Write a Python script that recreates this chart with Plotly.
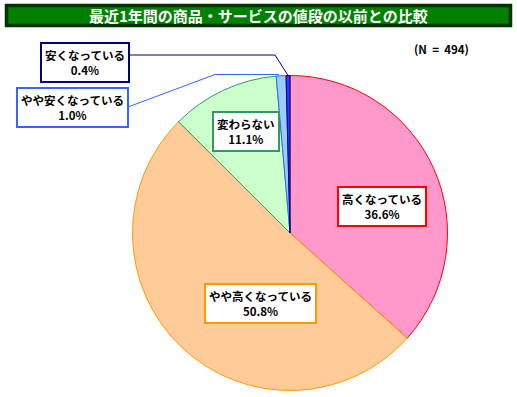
import math
import plotly.graph_objects as go

title = "最近1年間の商品・サービスの値段の以前との比較"
labels = ["高くなっている", "やや高くなっている", "変わらない", "やや安くなっている", "安くなっている"]
values = [36.6, 50.8, 11.1, 1.0, 0.4]
n_text = "(N  =  494)"

fills = ["#FF99CC", "#FFCC99", "#CCFFCC", "#99CCFF", "#3333FF"]
borders = ["#FF0000", "#FF9900", "#339966", "#3366FF", "#000080"]

W, H = 517, 397
FONT = "Noto Sans CJK JP"

# pie geometry in pixels
cx, cy, r = 290, 233, 157.5

def px(x):
    return x / W

def py(y):
    return 1 - y / H

fig = go.Figure()
fig.add_trace(go.Pie(
    labels=labels, values=values, sort=False, direction="clockwise", rotation=0,
    marker=dict(colors=fills, line=dict(color=borders, width=1)),
    textinfo="none", hoverinfo="label+percent", showlegend=False,
    domain=dict(x=[px(cx - r), px(cx + r)], y=[py(cy + r), py(cy - r)]),
))

# label boxes (pixel centres)
label_pos = [(382, 206), (260.5, 303), (246, 131), (72.5, 107), (85, 63)]
annotations = []
for lab, v, (x, y), bc in zip(labels, values, label_pos, borders):
    annotations.append(dict(
        x=px(x), y=py(y), xref="paper", yref="paper", xanchor="center", yanchor="middle",
        text=f"<b>{lab}<br>{v:.1f}%</b>", showarrow=False, align="center",
        font=dict(family=FONT, size=11.5, color="#000000"),
        bgcolor="#FFFFFF", bordercolor=bc, borderwidth=2, borderpad=3,
    ))

annotations.append(dict(
    x=px(258), y=py(15.5), xref="paper", yref="paper", xanchor="center", yanchor="middle",
    text=f"<b>{title}</b>", showarrow=False,
    font=dict(family=FONT, size=15, color="#FFFFFF"),
))
annotations.append(dict(
    x=px(441), y=py(49), xref="paper", yref="paper", xanchor="center", yanchor="middle",
    text=f"<b>{n_text}</b>", showarrow=False,
    font=dict(family=FONT, size=11.5, color="#000000"),
))

# slice mid points for leader lines
total = sum(values)
cum = 0
mids = []
for v in values:
    a = (cum + v / 2) / total * 2 * math.pi
    mids.append((cx + r * math.sin(a), cy - r * math.cos(a)))
    cum += v

shapes = [
    dict(type="rect", xref="paper", yref="paper", x0=px(6.5), x1=px(510.5), y0=py(25.5), y1=py(5.5),
         fillcolor="#008000", line=dict(color="#003300", width=3.5), layer="below"),
]
# やや安く leader
m3 = mids[3]
shapes.append(dict(type="path", xref="paper", yref="paper",
                   path=f"M {px(128)} {py(107)} L {px(215)} {py(74.5)} L {px(m3[0] - 2)} {py(74.5)}",
                   line=dict(color="#3366FF", width=1)))
m4 = mids[4]
shapes.append(dict(type="path", xref="paper", yref="paper",
                   path=f"M {px(128)} {py(55)} L {px(275)} {py(55)} L {px(m4[0])} {py(m4[1])}",
                   line=dict(color="#000080", width=1)))

fig.update_layout(
    width=W, height=H, margin=dict(l=0, r=0, t=0, b=0),
    paper_bgcolor="#FFFFFF", plot_bgcolor="#FFFFFF",
    annotations=annotations, shapes=shapes,
)
fig.write_html("out.html")
